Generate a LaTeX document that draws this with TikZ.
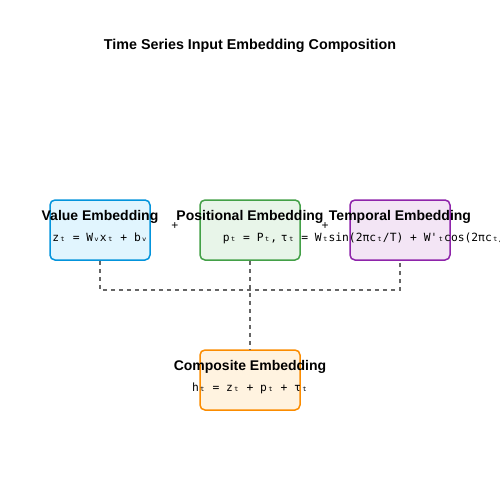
\documentclass[tikz,border=0pt]{standalone}
\usepackage{fontspec}
\setmainfont{Liberation Sans}
\newfontfamily\formfont{DejaVu Sans Mono}
\definecolor{valfill}{HTML}{E1F5FE}
\definecolor{valline}{HTML}{0394DC}
\definecolor{posfill}{HTML}{E8F5E9}
\definecolor{posline}{HTML}{43A047}
\definecolor{tmpfill}{HTML}{F3E5F5}
\definecolor{tmpline}{HTML}{8E24AA}
\definecolor{cmpfill}{HTML}{FFF3E0}
\definecolor{cmpline}{HTML}{FB8C00}
\definecolor{linkgray}{HTML}{666666}
\begin{document}
\begin{tikzpicture}[
				x=1pt, y=-1pt,
				part/.style={
						fill=#1fill,
						draw=#1line,
						line width=1.5pt,
						rounded corners=5pt,
						minimum width=100pt,
						minimum height=60pt,
						inner sep=0pt,
					},
				head/.style={
						font=\fontsize{14}{16}\selectfont\bfseries,
						inner sep=0pt,
						anchor=base,
					},
				formula/.style={
						font=\formfont\fontsize{11.3}{13}\selectfont,
						inner sep=0pt,
						anchor=base,
					},
				link/.style={
						draw=linkgray,
						line width=1.2pt,
						dash pattern=on 4pt off 4pt,
					},
			]
			\useasboundingbox (0,0) rectangle (500,500);

			\node[head, font=\fontsize{14.3}{16}\selectfont\bfseries] (title) at (250,50) {Time Series Input Embedding Composition};

			\node[part=val] (val) at (100,230) {};
			\node[part=pos] (pos) at (250,230) {};
			\node[part=tmp] (tmp) at (400,230) {};
			\node[part=cmp] (cmp) at (250,380) {};

			\coordinate (join) at (250,290);
			\draw[link] (val.south) |- (join) -| (tmp.south);
			\draw[link] (pos.south) -- (cmp.north);

			\node[head] (valhead) at (100,220) {Value Embedding};
			\node[head] (poshead) at (250,220) {Positional Embedding};
			\node[head] (tmphead) at (400,220) {Temporal Embedding};
			\node[head] (cmphead) at (250,370) {Composite Embedding};

			\node[formula] (valform) at (100,241) {zₜ = Wᵥxₜ + bᵥ};
			\node[formula] (posform) at (250,241) {pₜ = Pₜ,};
			\node[formula] (tmpform) at (400,241) {τₜ = Wₜsin(2πcₜ/T) + W'ₜcos(2πcₜ/T)};
			\node[formula] (cmpform) at (250,391) {hₜ = zₜ + pₜ + τₜ};

			\node[head, font=\fontsize{12}{14}\selectfont] (plusa) at (175,229) {+};
			\node[head, font=\fontsize{12}{14}\selectfont] (plusb) at (325,229) {+};
		\end{tikzpicture}
\end{document}
